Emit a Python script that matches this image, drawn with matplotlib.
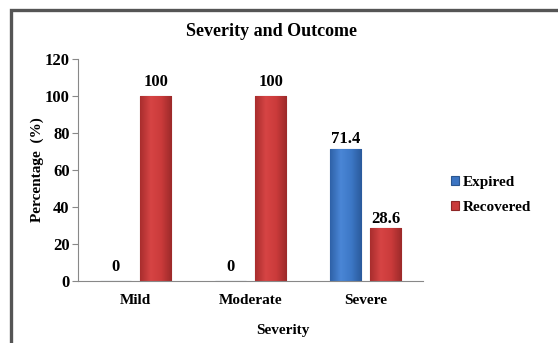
import matplotlib.pyplot as plt
import numpy as np
from matplotlib.patches import Rectangle
from matplotlib.colors import LinearSegmentedColormap

severity = ['Mild', 'Moderate', 'Severe']
expired = [0, 0, 71.4]
recovered = [100, 100, 28.6]
expired_labels = ['0', '0', '71.4']
recovered_labels = ['100', '100', '28.6']

plt.rcParams['font.family'] = 'Liberation Serif'
plt.rcParams['font.weight'] = 'bold'

fig = plt.figure(figsize=(5.58, 3.43), dpi=100)
ax = fig.add_axes([78 / 558, 1 - 281 / 343, 345 / 558, 222 / 343])

# frame around the whole chart
fig.patches.append(Rectangle((11 / 558, -0.1), 1.2, 1 - 10 / 343 + 0.1,
                             transform=fig.transFigure, fill=False,
                             edgecolor='#555555', linewidth=2.4, zorder=0))

x = np.arange(len(severity))
w = 0.27
off = 0.175
b1 = ax.bar(x - off, expired, w, color='#3B74C2', edgecolor='#2A568F',
            linewidth=0.8, label='Expired')
b2 = ax.bar(x + off, recovered, w, color='#C93A3A', edgecolor='#8E2626',
            linewidth=0.8, label='Recovered')

# soft left-to-right shading on each bar
shades = {
    'b': LinearSegmentedColormap.from_list('b', ['#2F62A8', '#4A86D6', '#3D78C6', '#2A5A9C']),
    'r': LinearSegmentedColormap.from_list('r', ['#A92E2E', '#D64444', '#CB3B3B', '#9C2A2A']),
}
grad = np.linspace(0, 1, 64).reshape(1, -1)
for bars, key in [(b1, 'b'), (b2, 'r')]:
    for b in bars:
        if b.get_height() <= 0:
            continue
        x0, y0 = b.get_x(), b.get_y()
        im = ax.imshow(grad, cmap=shades[key], aspect='auto', zorder=2.1,
                       extent=[x0, x0 + b.get_width(), y0, y0 + b.get_height()])
        im.set_clip_path(b)

# value labels; the Severe pair sits a little tighter on its bars
gaps = [3, 3, 0.8]
for bars, labels in [(b1, expired_labels), (b2, recovered_labels)]:
    for b, t, g in zip(bars, labels, gaps):
        ax.text(b.get_x() + b.get_width() / 2, b.get_height() + g, t,
                ha='center', va='bottom', fontsize=12, fontweight='bold')

ax.set_ylim(0, 120)
ax.set_yticks(range(0, 121, 20))
ax.set_xlim(-0.5, 2.5)
ax.set_xticks(x)
ax.set_xticklabels(severity)
ax.tick_params(axis='x', length=0, pad=9, labelsize=11)
ax.tick_params(axis='y', length=4, color='#888888', labelsize=12, pad=2)
for s in ['top', 'right']:
    ax.spines[s].set_visible(False)
ax.spines['left'].set_color('#888888')
ax.spines['bottom'].set_color('#888888')

ax.set_ylabel('Percentage  (%)', fontsize=11, fontweight='bold', va='center')
ax.yaxis.set_label_coords(-0.119, 0.5)
ax.set_xlabel('Severity', fontsize=11, fontweight='bold', va='center')
ax.xaxis.set_label_coords(0.594, -0.221)
fig.text(272 / 558, 1 - 32 / 343, 'Severity and Outcome', ha='center',
         va='center', fontsize=13, fontweight='bold')

fig.legend(handles=[b1, b2], loc='center left', bbox_to_anchor=(437 / 558, 1 - 195 / 343),
           frameon=False, fontsize=11, handlelength=0.55, handleheight=0.55,
           handletextpad=0.25, labelspacing=0.8)

fig.savefig('out.png', dpi=100)
